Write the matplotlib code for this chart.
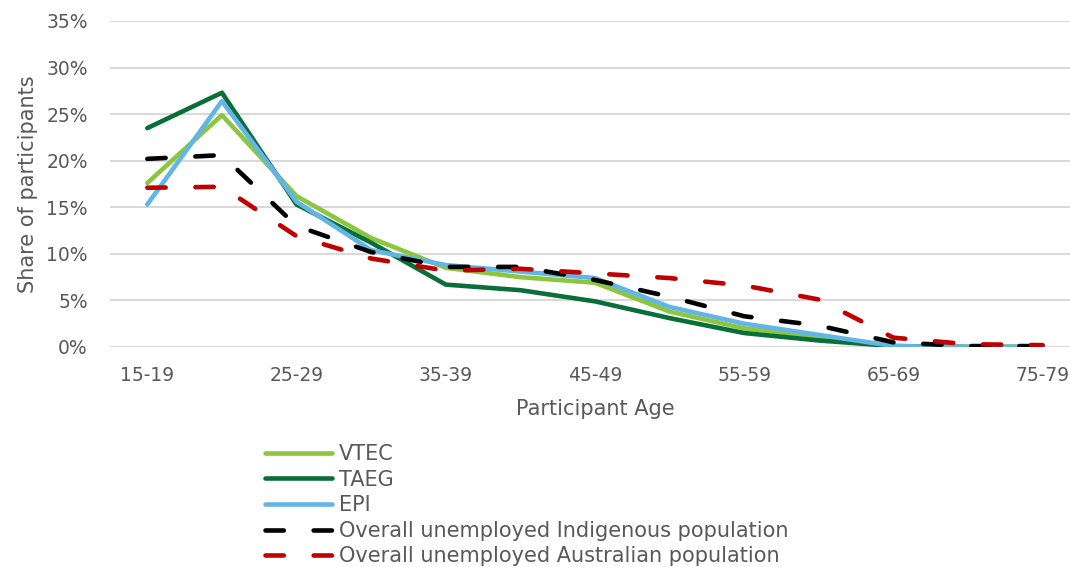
import numpy as np
import matplotlib
matplotlib.use("Agg")
import matplotlib.pyplot as plt
from matplotlib.ticker import PercentFormatter

# age groups and series (share of participants, %)
ages = ["15-19", "20-24", "25-29", "30-34", "35-39", "40-44", "45-49",
        "50-54", "55-59", "60-64", "65-69", "70-74", "75-79"]
vtec = [17.6, 24.9, 16.2, 11.7, 8.5, 7.5, 6.9, 3.8, 2.0, 1.1, 0.1, 0.0, 0.0]
taeg = [23.5, 27.3, 15.3, 11.2, 6.7, 6.1, 4.9, 3.1, 1.5, 0.7, 0.1, 0.0, 0.0]
epi = [15.3, 26.4, 15.6, 10.4, 8.8, 8.1, 7.4, 4.3, 2.5, 1.3, 0.1, 0.0, 0.0]
indig = [20.2, 20.6, 13.0, 10.2, 8.6, 8.6, 7.2, 5.4, 3.3, 2.3, 0.5, 0.1, 0.1]
austr = [17.1, 17.2, 11.9, 9.5, 8.2, 8.4, 7.9, 7.4, 6.6, 5.1, 1.0, 0.3, 0.2]

grey = "#595959"
plt.rcParams["font.family"] = "DejaVu Sans"

fig = plt.figure(figsize=(10.7, 5.67), dpi=100)
ax = fig.add_axes([110/1070, 220/567, 970/1070, 326/567])

x = np.arange(len(ages))
lw = 3.3
ax.plot(x, vtec, color="#8CC63F", lw=lw, label="VTEC", solid_capstyle="round")
ax.plot(x, taeg, color="#0A6E38", lw=lw, label="TAEG", solid_capstyle="round")
ax.plot(x, epi, color="#62B5E5", lw=lw, label="EPI", solid_capstyle="round")
ax.plot(x, indig, color="black", lw=lw, dashes=(4, 6.5), dash_capstyle="round",
        label="Overall unemployed Indigenous population")
ax.plot(x, austr, color="#C00000", lw=lw, dashes=(4, 6.5), dash_capstyle="round",
        label="Overall unemployed Australian population")

ax.set_xlim(-0.5, len(ages) - 0.5)
ax.set_ylim(0, 35)
ax.set_yticks(np.arange(0, 36, 5))
ax.yaxis.set_major_formatter(PercentFormatter(decimals=0))
ax.set_xticks(x[::2])
ax.set_xticklabels(ages[::2])
ax.grid(axis="y", color="#D9D9D9", lw=1.5)
ax.set_axisbelow(True)
for s in ax.spines.values():
    s.set_visible(False)
ax.tick_params(length=0, labelsize=13.5, colors=grey)
ax.tick_params(axis="x", pad=14)
ax.tick_params(axis="y", pad=16)

ax.set_xlabel("Participant Age", fontsize=15, color=grey, labelpad=10)
ax.set_ylabel("Share of participants", fontsize=15, color=grey, labelpad=6)

fig.legend(loc="upper left", bbox_to_anchor=(265/1070, 123/567), frameon=False,
           fontsize=15, handlelength=3.2, handletextpad=0.35, labelspacing=0.27,
           borderpad=0, borderaxespad=0, labelcolor=grey)

fig.savefig("out.png", dpi=100)
